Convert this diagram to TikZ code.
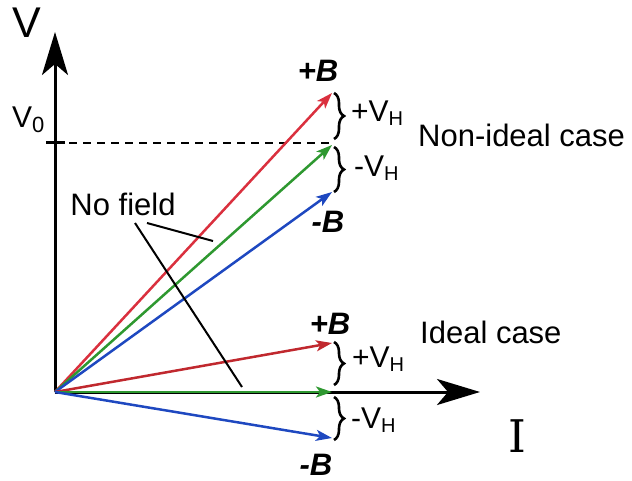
\documentclass[tikz,border=0pt]{standalone}
\usepackage{fontspec}
\setmainfont{Liberation Sans}
\newfontfamily\hallserif{DejaVu Serif}
\usepackage{tikz}
\usetikzlibrary{arrows.meta,decorations.pathreplacing}
\definecolor{hallred}{RGB}{218,48,62}
\definecolor{halldred}{RGB}{192,40,46}
\definecolor{hallgreen}{RGB}{46,152,48}
\definecolor{hallblue}{RGB}{30,72,192}
\newcommand{\hallVH}[1]{#1V\raisebox{-4pt}{\fontsize{20}{20}\selectfont H}}
\tikzset{
  axis/.style={line width=3pt, -{Stealth[length=43pt,width=26pt,inset=11pt]}},
  vec/.style={line width=2.5pt, -{Stealth[length=16pt,width=11pt,inset=4pt]}},
  hbrace/.style={decorate, decoration={brace, amplitude=10pt}, line width=2.6pt},
  lbl/.style={inner sep=0pt, font=\fontsize{31}{31}\selectfont},
  vhlbl/.style={inner sep=0pt, anchor=base west, font=\fontsize{30}{30}\selectfont},
  blbl/.style={inner sep=0pt, font=\fontsize{31}{31}\selectfont\bfseries\itshape},
  pointer/.style={line width=2pt}
}
\begin{document}
\begin{tikzpicture}[x=1pt, y=-1pt]
  \useasboundingbox (0,0) rectangle (632,481);
  % axes
  \coordinate (O) at (55,392);
  \coordinate (vtip) at (55,32);
  \coordinate (itip) at (480,392);
  \draw[axis] (O) -- (vtip);
  \draw[axis] (O) -- (itip);
  \node[inner sep=0pt, anchor=base west, font=\fontsize{43}{43}\selectfont] (vlabel) at (12,38) {V};
  \node[inner sep=0pt, anchor=base west, font=\fontsize{45}{45}\selectfont\hallserif] (ilabel) at (508,452) {I};
  % V0 level
  \coordinate (tickl) at (46,143);
  \coordinate (tickr) at (65,143);
  \coordinate (dashend) at (330,143);
  \draw[line width=3pt] (tickl) -- (tickr);
  \draw[line width=1.2pt, dash pattern=on 8pt off 6pt] (55,143) -- (dashend);
  \node[inner sep=0pt, anchor=base west, font=\fontsize{30}{30}\selectfont] (vzero) at (12,128)
    {V\raisebox{-5pt}{\fontsize{22}{22}\selectfont 0}};
  % non-ideal case
  \coordinate (ru) at (332,93);
  \coordinate (gu) at (332,145);
  \coordinate (bu) at (332,192);
  \draw[vec, hallred] (O) -- (ru);
  \draw[vec, hallgreen] (O) -- (gu);
  \draw[vec, hallblue] (O) -- (bu);
  \draw[hbrace] (334,93) -- (334,139);
  \draw[hbrace] (334,147) -- (334,192);
  \node[blbl] (pbup) at (318,71) {+B};
  \node[blbl] (mbup) at (328,222) {-B};
  \node[vhlbl] (vhup1) at (351,122) {\hallVH{+}};
  \node[vhlbl] (vhup2) at (354,177) {\hallVH{-}};
  \node[lbl, anchor=base west] (nonideal) at (418,147) {Non-ideal case};
  % ideal case
  \coordinate (rl) at (332,343);
  \coordinate (gl) at (332,392);
  \coordinate (bl) at (332,438);
  \draw[vec, halldred] (O) -- (rl);
  \draw[vec, hallgreen] (O) -- (gl);
  \draw[vec, hallblue] (O) -- (bl);
  \draw[hbrace] (334,342) -- (334,385);
  \draw[hbrace] (334,397) -- (334,440);
  \node[blbl] (pblo) at (330,324) {+B};
  \node[blbl] (mblo) at (316,465) {-B};
  \node[vhlbl] (vhlo1) at (352,367) {\hallVH{+}};
  \node[vhlbl] (vhlo2) at (351,428) {\hallVH{-}};
  \node[lbl, anchor=base west] (ideal) at (420,343) {Ideal case};
  % no field pointers
  \node[lbl, anchor=base] (nofield) at (123,216) {No field};
  \coordinate (nflong) at (242,387);
  \coordinate (nfshort) at (213,241);
  \draw[pointer] (135,223) -- (nflong);
  \draw[pointer] (147,223) -- (nfshort);
\end{tikzpicture}
\end{document}
